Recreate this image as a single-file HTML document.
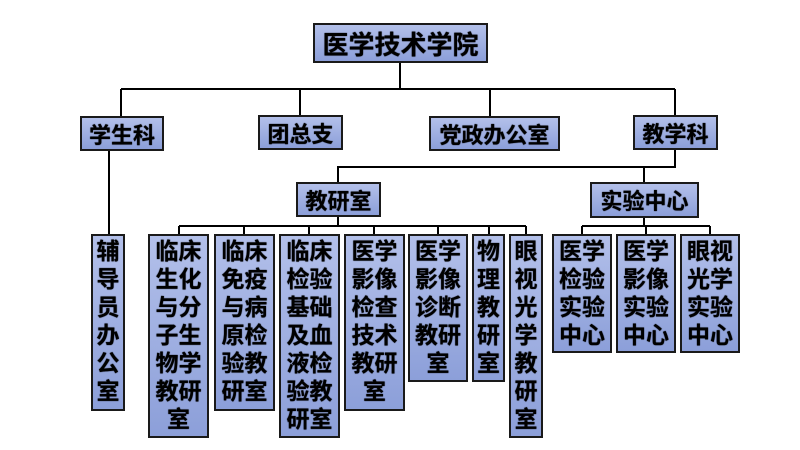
<!DOCTYPE html>
<html><head><meta charset="utf-8"><style>
body{margin:0;width:800px;height:450px;background:#fff;position:relative;overflow:hidden;font-family:"Liberation Sans","Noto Sans CJK SC",sans-serif;}
.b{position:absolute;box-sizing:border-box;border:2px solid #1a1a1a;background:linear-gradient(#b3c0ea,#8c9fd9);font-weight:bold;color:#000;display:flex;justify-content:center;align-items:center;white-space:nowrap;text-shadow:0 0 1px #000;}
.v{align-items:flex-start;padding-top:1px;font-size:23px;line-height:28px;text-align:center;white-space:normal;word-break:break-all;}
svg{position:absolute;left:0;top:0}
</style></head><body>
<svg width="800" height="450"><g stroke="#000" stroke-width="2" fill="none">
<path d="M400 62V89M121 89H675M121 89V116M300 89V115M490 89V116M675 89V115"/>
<path d="M109 151V234"/>
<path d="M675 149V167H338V182M644 167V182"/>
<path d="M338 216V226M179 226H526M179 226V234M244 226V234M309 226V234M374 226V234M438 226V234M489 226V234M526 226V234"/>
<path d="M644 218V226M582 226H710M582 226V234M646 226V234M710 226V234"/>
</g></svg>
<div class="b" style="left:313px;top:23px;width:175px;height:40px;font-size:26px">医学技术学院</div>
<div class="b" style="left:80px;top:116px;width:84px;height:35px;font-size:22px">学生科</div>
<div class="b" style="left:258px;top:115px;width:85px;height:35px;font-size:22px">团总支</div>
<div class="b" style="left:429px;top:116px;width:131px;height:35px;font-size:22px">党政办公室</div>
<div class="b" style="left:633px;top:115px;width:85px;height:35px;font-size:22px">教学科</div>
<div class="b" style="left:296px;top:182px;width:85px;height:35px;font-size:22px">教研室</div>
<div class="b" style="left:590px;top:182px;width:109px;height:36px;font-size:22px">实验中心</div>
<div class="b v" style="left:91px;top:234px;width:34px;height:177px">辅<br>导<br>员<br>办<br>公<br>室</div>
<div class="b v" style="left:148px;top:234px;width:61px;height:204px">临床<br>生化<br>与分<br>子生<br>物学<br>教研<br>室</div>
<div class="b v" style="left:214px;top:234px;width:61px;height:177px">临床<br>免疫<br>与病<br>原检<br>验教<br>研室</div>
<div class="b v" style="left:279px;top:234px;width:61px;height:204px">临床<br>检验<br>基础<br>及血<br>液检<br>验教<br>研室</div>
<div class="b v" style="left:344px;top:234px;width:61px;height:177px">医学<br>影像<br>检查<br>技术<br>教研<br>室</div>
<div class="b v" style="left:408px;top:234px;width:60px;height:148px">医学<br>影像<br>诊断<br>教研<br>室</div>
<div class="b v" style="left:472px;top:234px;width:33px;height:148px">物<br>理<br>教<br>研<br>室</div>
<div class="b v" style="left:509px;top:234px;width:34px;height:204px">眼<br>视<br>光<br>学<br>教<br>研<br>室</div>
<div class="b v" style="left:552px;top:234px;width:60px;height:119px">医学<br>检验<br>实验<br>中心</div>
<div class="b v" style="left:616px;top:234px;width:60px;height:119px">医学<br>影像<br>实验<br>中心</div>
<div class="b v" style="left:680px;top:234px;width:60px;height:119px">眼视<br>光学<br>实验<br>中心</div>
</body></html>
